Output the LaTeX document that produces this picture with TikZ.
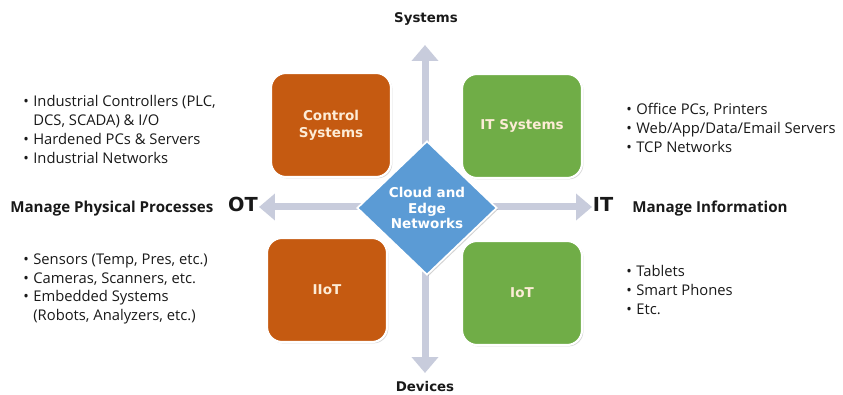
\documentclass[tikz,border=0pt]{standalone}
\usepackage{fontspec}
\setmainfont{Open Sans}
\newfontfamily\djv{DejaVu Sans}
\usetikzlibrary{arrows.meta,shapes.geometric,shadows}
\definecolor{otorange}{RGB}{197,90,17}
\definecolor{itgreen}{RGB}{112,173,71}
\definecolor{cloudblue}{RGB}{91,155,213}
\definecolor{axisgray}{RGB}{200,204,220}
\definecolor{cream}{RGB}{253,236,214}
\definecolor{txt}{RGB}{25,25,25}
\newcommand\bul{\makebox[5.7pt][l]{\textbullet}}
\newcommand\ind{\makebox[5.7pt][l]{}}
\tikzset{
  axis/.style={draw=axisgray, line width=0.14cm,
    {Triangle[width=0.52cm,length=0.32cm]}-{Triangle[width=0.52cm,length=0.32cm]}},
  quad/.style={rounded corners=0.3cm, draw=white, line width=1.2pt,
    drop shadow={opacity=0.3, shadow xshift=0.8pt, shadow yshift=-0.8pt},
    minimum width=2.4cm, minimum height=2.08cm, inner sep=0pt, align=center,
    text=cream, font=\djv\bfseries\fontsize{7.7}{9.5}\selectfont},
  cloud/.style={diamond, fill=cloudblue, draw=white, line width=1pt,
    drop shadow={opacity=0.35, shadow xshift=0.8pt, shadow yshift=-0.8pt},
    minimum width=2.8cm, minimum height=2.68cm, inner sep=0pt, align=center,
    text=white, font=\djv\bfseries\fontsize{7.7}{9}\selectfont},
  blist/.style={anchor=north west, align=left, inner sep=0pt, text=txt,
    font=\fontsize{8.4}{10.8}\selectfont},
  heading/.style={anchor=base west, inner sep=0pt, text=txt,
    font=\bfseries\fontsize{8.6}{10}\selectfont},
  axlabel/.style={anchor=base, inner sep=0pt, text=txt,
    font=\djv\bfseries\fontsize{7.6}{9}\selectfont},
  bigside/.style={anchor=base, inner sep=0pt, text=txt,
    font=\djv\bfseries\fontsize{11}{13}\selectfont}
}
\begin{document}
\begin{tikzpicture}[x=0.02cm, y=-0.02cm]
\useasboundingbox (0,0) rectangle (843,395);
% axes
\coordinate (vt) at (425,45);
\coordinate (vb) at (425,373);
\coordinate (hl) at (259,207);
\coordinate (hr) at (592,207);
\draw[axis] (vt) -- (vb);
\draw[axis] (hl) -- (hr);
% quadrant boxes
\node[quad, fill=otorange] (cs) at (331,125) {Control\\Systems};
\node[quad, fill=itgreen] (its) at (522,126) {IT Systems};
\node[quad, fill=otorange] (iiot) at (327,290) {IIoT};
\node[quad, fill=itgreen] (iot) at (522,293) {IoT};
% centre
\node[cloud] (cloud) at (427,208) {Cloud and\\Edge\\Networks};
% axis labels
\node[axlabel] (sys) at (426,23) {Systems};
\node[axlabel] (dev) at (425,392) {Devices};
\node[bigside] (ot) at (243,212) {OT};
\node[bigside] (it) at (603,212) {IT};
\node[heading] (mpp) at (10,212.5) {Manage Physical Processes};
\node[heading] (mi) at (632,212.5) {Manage Information};
% lists
\node[blist] (lt) at (23,94.7) {\bul Industrial Controllers (PLC,\\\ind DCS, SCADA) \& I/O\\\bul Hardened PCs \& Servers\\\bul Industrial Networks};
\node[blist] (lb) at (23,253) {\bul Sensors (Temp, Pres, etc.)\\\bul Cameras, Scanners, etc.\\\bul Embedded Systems\\\ind (Robots, Analyzers, etc.)};
\node[blist] (rt) at (626,103) {\bul Office PCs, Printers\\\bul Web/App/Data/Email Servers\\\bul TCP Networks};
\node[blist] (rb) at (626,265) {\bul Tablets\\\bul Smart Phones\\\bul Etc.};
\end{tikzpicture}
\end{document}
